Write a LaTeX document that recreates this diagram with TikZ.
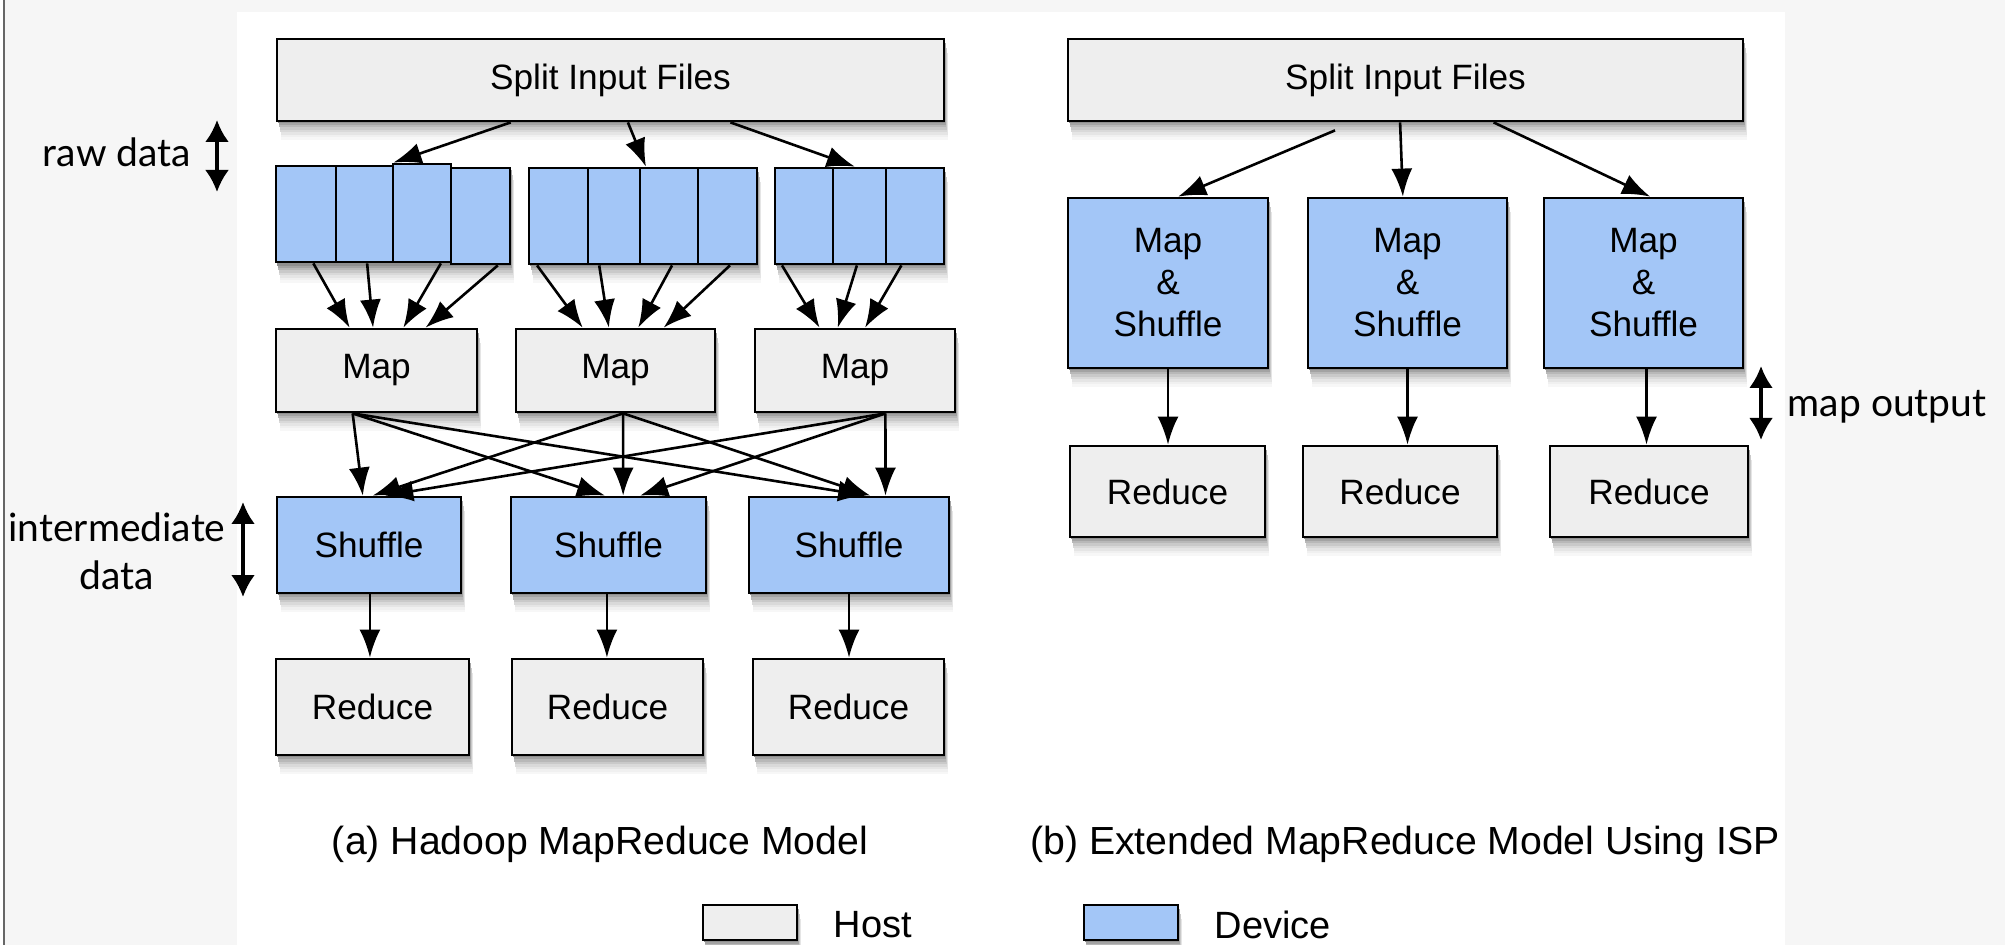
\documentclass[tikz,border=0pt]{standalone}
\usepackage{fontspec}
\setmainfont{Liberation Sans}
\newfontfamily\sidefont{Lato}
\usetikzlibrary{arrows.meta,calc}
\definecolor{hostgray}{HTML}{EEEEEE}
\definecolor{devblue}{HTML}{A3C6F7}
\definecolor{bgpat}{HTML}{F6F6F6}
\newcommand\shbox[4]{%
  \foreach \dx/\dy/\cc in {4.4/19/3,4.2/16.5/6,3.8/14/10,3.4/11.5/15,2.8/9/21,2.2/6.5/28,1.6/4/36,1/2/44}{%
    \fill[black!\cc] (#1+\dx,#2+\dy) rectangle (#3+\dx,#4+\dy);}}
\tikzset{
  bx/.style n args={4}{at={(#1/2+#3/2,#2/2+#4/2)},minimum width={(#3-#1)*0.5pt},minimum height={(#4-#2)*0.5pt}},
  boxbase/.style={draw=black,line width=1.4pt,inner sep=0pt,align=center,font=\fontsize{17.6}{21}\selectfont},
  host/.style={boxbase,fill=hostgray},
  dev/.style={boxbase,fill=devblue},
  cell/.style={draw=black,line width=1.4pt,inner sep=0pt,fill=devblue},
  arr/.style={line width=1.3pt,-{Latex[length=14pt,width=10.5pt]}},
  dbl/.style={line width=1.7pt,{Latex[length=11pt,width=12pt]}-{Latex[length=11pt,width=12pt]}},
  side/.style={font=\sidefont\fontsize{19.5}{24}\selectfont,align=center,inner sep=0pt},
  capt/.style={font=\fontsize{19.6}{23}\selectfont,inner sep=0pt},
}
\begin{document}
\begin{tikzpicture}[x=0.5pt,y=-0.5pt]
\useasboundingbox (0,0) rectangle (2005,945);
% background texture areas
\fill[bgpat] (5,0) rectangle (237,945);
\fill[bgpat] (5,0) rectangle (2005,12);
\fill[bgpat] (1785,0) rectangle (2005,945);
\draw[color=black!60,line width=1pt] (4,0) -- (4,945);

% ---------- shadows ----------
\shbox{277}{39}{944}{121}
\shbox{276}{166}{510}{264}
\shbox{529}{168}{757}{264}
\shbox{775}{168}{944}{264}
\shbox{276}{329}{477}{412}
\shbox{516}{329}{715}{412}
\shbox{755}{329}{955}{412}
\shbox{277}{497}{461}{593}
\shbox{511}{497}{706}{593}
\shbox{749}{497}{949}{593}
\shbox{276}{659}{469}{755}
\shbox{512}{659}{703}{755}
\shbox{753}{659}{944}{755}
\shbox{1068}{39}{1743}{121}
\shbox{1068}{198}{1268}{368}
\shbox{1308}{198}{1507}{368}
\shbox{1544}{198}{1743}{368}
\shbox{1070}{446}{1265}{537}
\shbox{1303}{446}{1497}{537}
\shbox{1550}{446}{1748}{537}
\shbox{703}{905}{797}{940}
\shbox{1084}{905}{1178}{940}

% ---------- panel (a) ----------
\node[host,bx={277}{39}{944}{121}] (splitA) {Split Input Files};

\node[cell,bx={276}{166}{336}{262}] (g1c1) {};
\node[cell,bx={336}{166}{393}{262}] (g1c2) {};
\node[cell,bx={393}{164}{451}{262}] (g1c3) {};
\node[cell,bx={451}{168}{510}{264}] (g1c4) {};

\node[cell,bx={529}{168}{588}{264}] (g2c1) {};
\node[cell,bx={588}{168}{640}{264}] (g2c2) {};
\node[cell,bx={640}{168}{698}{264}] (g2c3) {};
\node[cell,bx={698}{168}{757}{264}] (g2c4) {};

\node[cell,bx={775}{168}{833}{264}] (g3c1) {};
\node[cell,bx={833}{168}{886}{264}] (g3c2) {};
\node[cell,bx={886}{168}{944}{264}] (g3c3) {};

\node[host,bx={276}{329}{477}{412}] (map1) {Map};
\node[host,bx={516}{329}{715}{412}] (map2) {Map};
\node[host,bx={755}{329}{955}{412}] (map3) {Map};

\node[dev,bx={277}{497}{461}{593}] (shuf1) {Shuffle};
\node[dev,bx={511}{497}{706}{593}] (shuf2) {Shuffle};
\node[dev,bx={749}{497}{949}{593}] (shuf3) {Shuffle};

\node[host,bx={276}{659}{469}{755}] (red1) {Reduce};
\node[host,bx={512}{659}{703}{755}] (red2) {Reduce};
\node[host,bx={753}{659}{944}{755}] (red3) {Reduce};

% split -> groups
\draw[arr] ($(splitA.south west)!0.351!(splitA.south east)$) -- ($(g1c3.north west)!0.03!(g1c3.north east)$);
\draw[arr] ($(splitA.south west)!0.526!(splitA.south east)$) -- ($(g2c3.north west)!0.12!(g2c3.north east)$);
\draw[arr] ($(splitA.south west)!0.679!(splitA.south east)$) -- ($(g3c2.north west)!0.415!(g3c2.north east)$);

% groups -> maps
\draw[arr] ($(g1c1.south west)!0.617!(g1c1.south east)$) -- ($(map1.north west)!0.368!(map1.north east)$);
\draw[arr] ($(g1c2.south west)!0.544!(g1c2.south east)$) -- ($(map1.north west)!0.483!(map1.north east)$);
\draw[arr] ($(g1c3.south west)!0.81!(g1c3.south east)$) -- ($(map1.north west)!0.632!(map1.north east)$);
\draw[arr] ($(g1c4.south west)!0.78!(g1c4.south east)$) -- ($(map1.north west)!0.741!(map1.north east)$);

\draw[arr] ($(g2c1.south west)!0.153!(g2c1.south east)$) -- ($(map2.north west)!0.337!(map2.north east)$);
\draw[arr] ($(g2c2.south west)!0.23!(g2c2.south east)$) -- ($(map2.north west)!0.467!(map2.north east)$);
\draw[arr] ($(g2c3.south west)!0.55!(g2c3.south east)$) -- ($(map2.north west)!0.613!(map2.north east)$);
\draw[arr] ($(g2c4.south west)!0.54!(g2c4.south east)$) -- ($(map2.north west)!0.739!(map2.north east)$);

\draw[arr] ($(g3c1.south west)!0.138!(g3c1.south east)$) -- ($(map3.north west)!0.325!(map3.north east)$);
\draw[arr] ($(g3c2.south west)!0.453!(g3c2.south east)$) -- ($(map3.north west)!0.415!(map3.north east)$);
\draw[arr] ($(g3c3.south west)!0.276!(g3c3.south east)$) -- ($(map3.north west)!0.55!(map3.north east)$);

% maps -> shuffles
\draw[arr] ($(map1.south west)!0.383!(map1.south east)$) -- ($(shuf1.north west)!0.467!(shuf1.north east)$);
\draw[arr] ($(map1.south west)!0.383!(map1.south east)$) -- ($(shuf2.north west)!0.482!(shuf2.north east)$);
\draw[arr] ($(map1.south west)!0.383!(map1.south east)$) -- ($(shuf3.north west)!0.585!(shuf3.north east)$);
\draw[arr] ($(map2.south west)!0.538!(map2.south east)$) -- ($(shuf1.north west)!0.52!(shuf1.north east)$);
\draw[arr] ($(map2.south west)!0.538!(map2.south east)$) -- ($(shuf2.north west)!0.574!(shuf2.north east)$);
\draw[arr] ($(map2.south west)!0.538!(map2.south east)$) -- ($(shuf3.north west)!0.605!(shuf3.north east)$);
\draw[arr] ($(map3.south west)!0.65!(map3.south east)$) -- ($(shuf1.north west)!0.587!(shuf1.north east)$);
\draw[arr] ($(map3.south west)!0.65!(map3.south east)$) -- ($(shuf2.north west)!0.66!(shuf2.north east)$);
\draw[arr] ($(map3.south west)!0.65!(map3.south east)$) -- ($(shuf3.north west)!0.68!(shuf3.north east)$);

% shuffles -> reduces
\draw[arr] ($(shuf1.south west)!0.505!(shuf1.south east)$) coordinate (s1) -- (s1 |- red1.north);
\draw[arr] ($(shuf2.south west)!0.492!(shuf2.south east)$) coordinate (s2) -- (s2 |- red2.north);
\draw[arr] ($(shuf3.south west)!0.5!(shuf3.south east)$) coordinate (s3) -- (s3 |- red3.north);

% side labels (a)
\node[side] (rawlbl) at (117,152) {raw data};
\coordinate (rawT) at (217,120);
\coordinate (rawB) at (217,192);
\draw[dbl] (rawT) -- (rawB);
\node[side] (intlbl) at (117,551) {intermediate\\data};
\coordinate (intT) at (243,502);
\coordinate (intB) at (243,597);
\draw[dbl] (intT) -- (intB);

\node[capt] (captA) at (600,844) {(a) Hadoop MapReduce Model};

% ---------- panel (b) ----------
\node[host,bx={1068}{39}{1743}{121}] (splitB) {Split Input Files};
\node[dev,bx={1068}{198}{1268}{368}] (ms1) {Map\\\&\\Shuffle};
\node[dev,bx={1308}{198}{1507}{368}] (ms2) {Map\\\&\\Shuffle};
\node[dev,bx={1544}{198}{1743}{368}] (ms3) {Map\\\&\\Shuffle};

\node[host,bx={1070}{446}{1265}{537}] (rb1) {Reduce};
\node[host,bx={1303}{446}{1497}{537}] (rb2) {Reduce};
\node[host,bx={1550}{446}{1748}{537}] (rb3) {Reduce};

\draw[arr] ([yshift=-4pt]$(splitB.south west)!0.396!(splitB.south east)$) -- ($(ms1.north west)!0.55!(ms1.north east)$);
\draw[arr] ($(splitB.south west)!0.492!(splitB.south east)$) -- ($(ms2.north west)!0.477!(ms2.north east)$);
\draw[arr] ($(splitB.south west)!0.63!(splitB.south east)$) -- ($(ms3.north west)!0.533!(ms3.north east)$);

\draw[arr] (ms1.south) -- (ms1.south |- rb1.north);
\draw[arr] (ms2.south) -- (ms2.south |- rb2.north);
\draw[arr] ([xshift=1.5pt]ms3.south) coordinate (m3) -- (m3 |- rb3.north);

\node[side] (molbl) at (1887,407) {map output};
\coordinate (moT) at (1761,366);
\coordinate (moB) at (1761,440);
\draw[dbl] (moT) -- (moB);

\node[capt] (captB) at (1405,844) {(b) Extended MapReduce Model Using ISP};

% ---------- legend ----------
\node[host,bx={703}{905}{797}{940}] (lhost) {};
\node[capt,font=\fontsize{19}{23}\selectfont] (lhostt) at (873,925) {Host};
\node[dev,bx={1084}{905}{1178}{940}] (ldev) {};
\node[capt,font=\fontsize{19}{23}\selectfont] (ldevt) at (1273,925) {Device};
\end{tikzpicture}
\end{document}
